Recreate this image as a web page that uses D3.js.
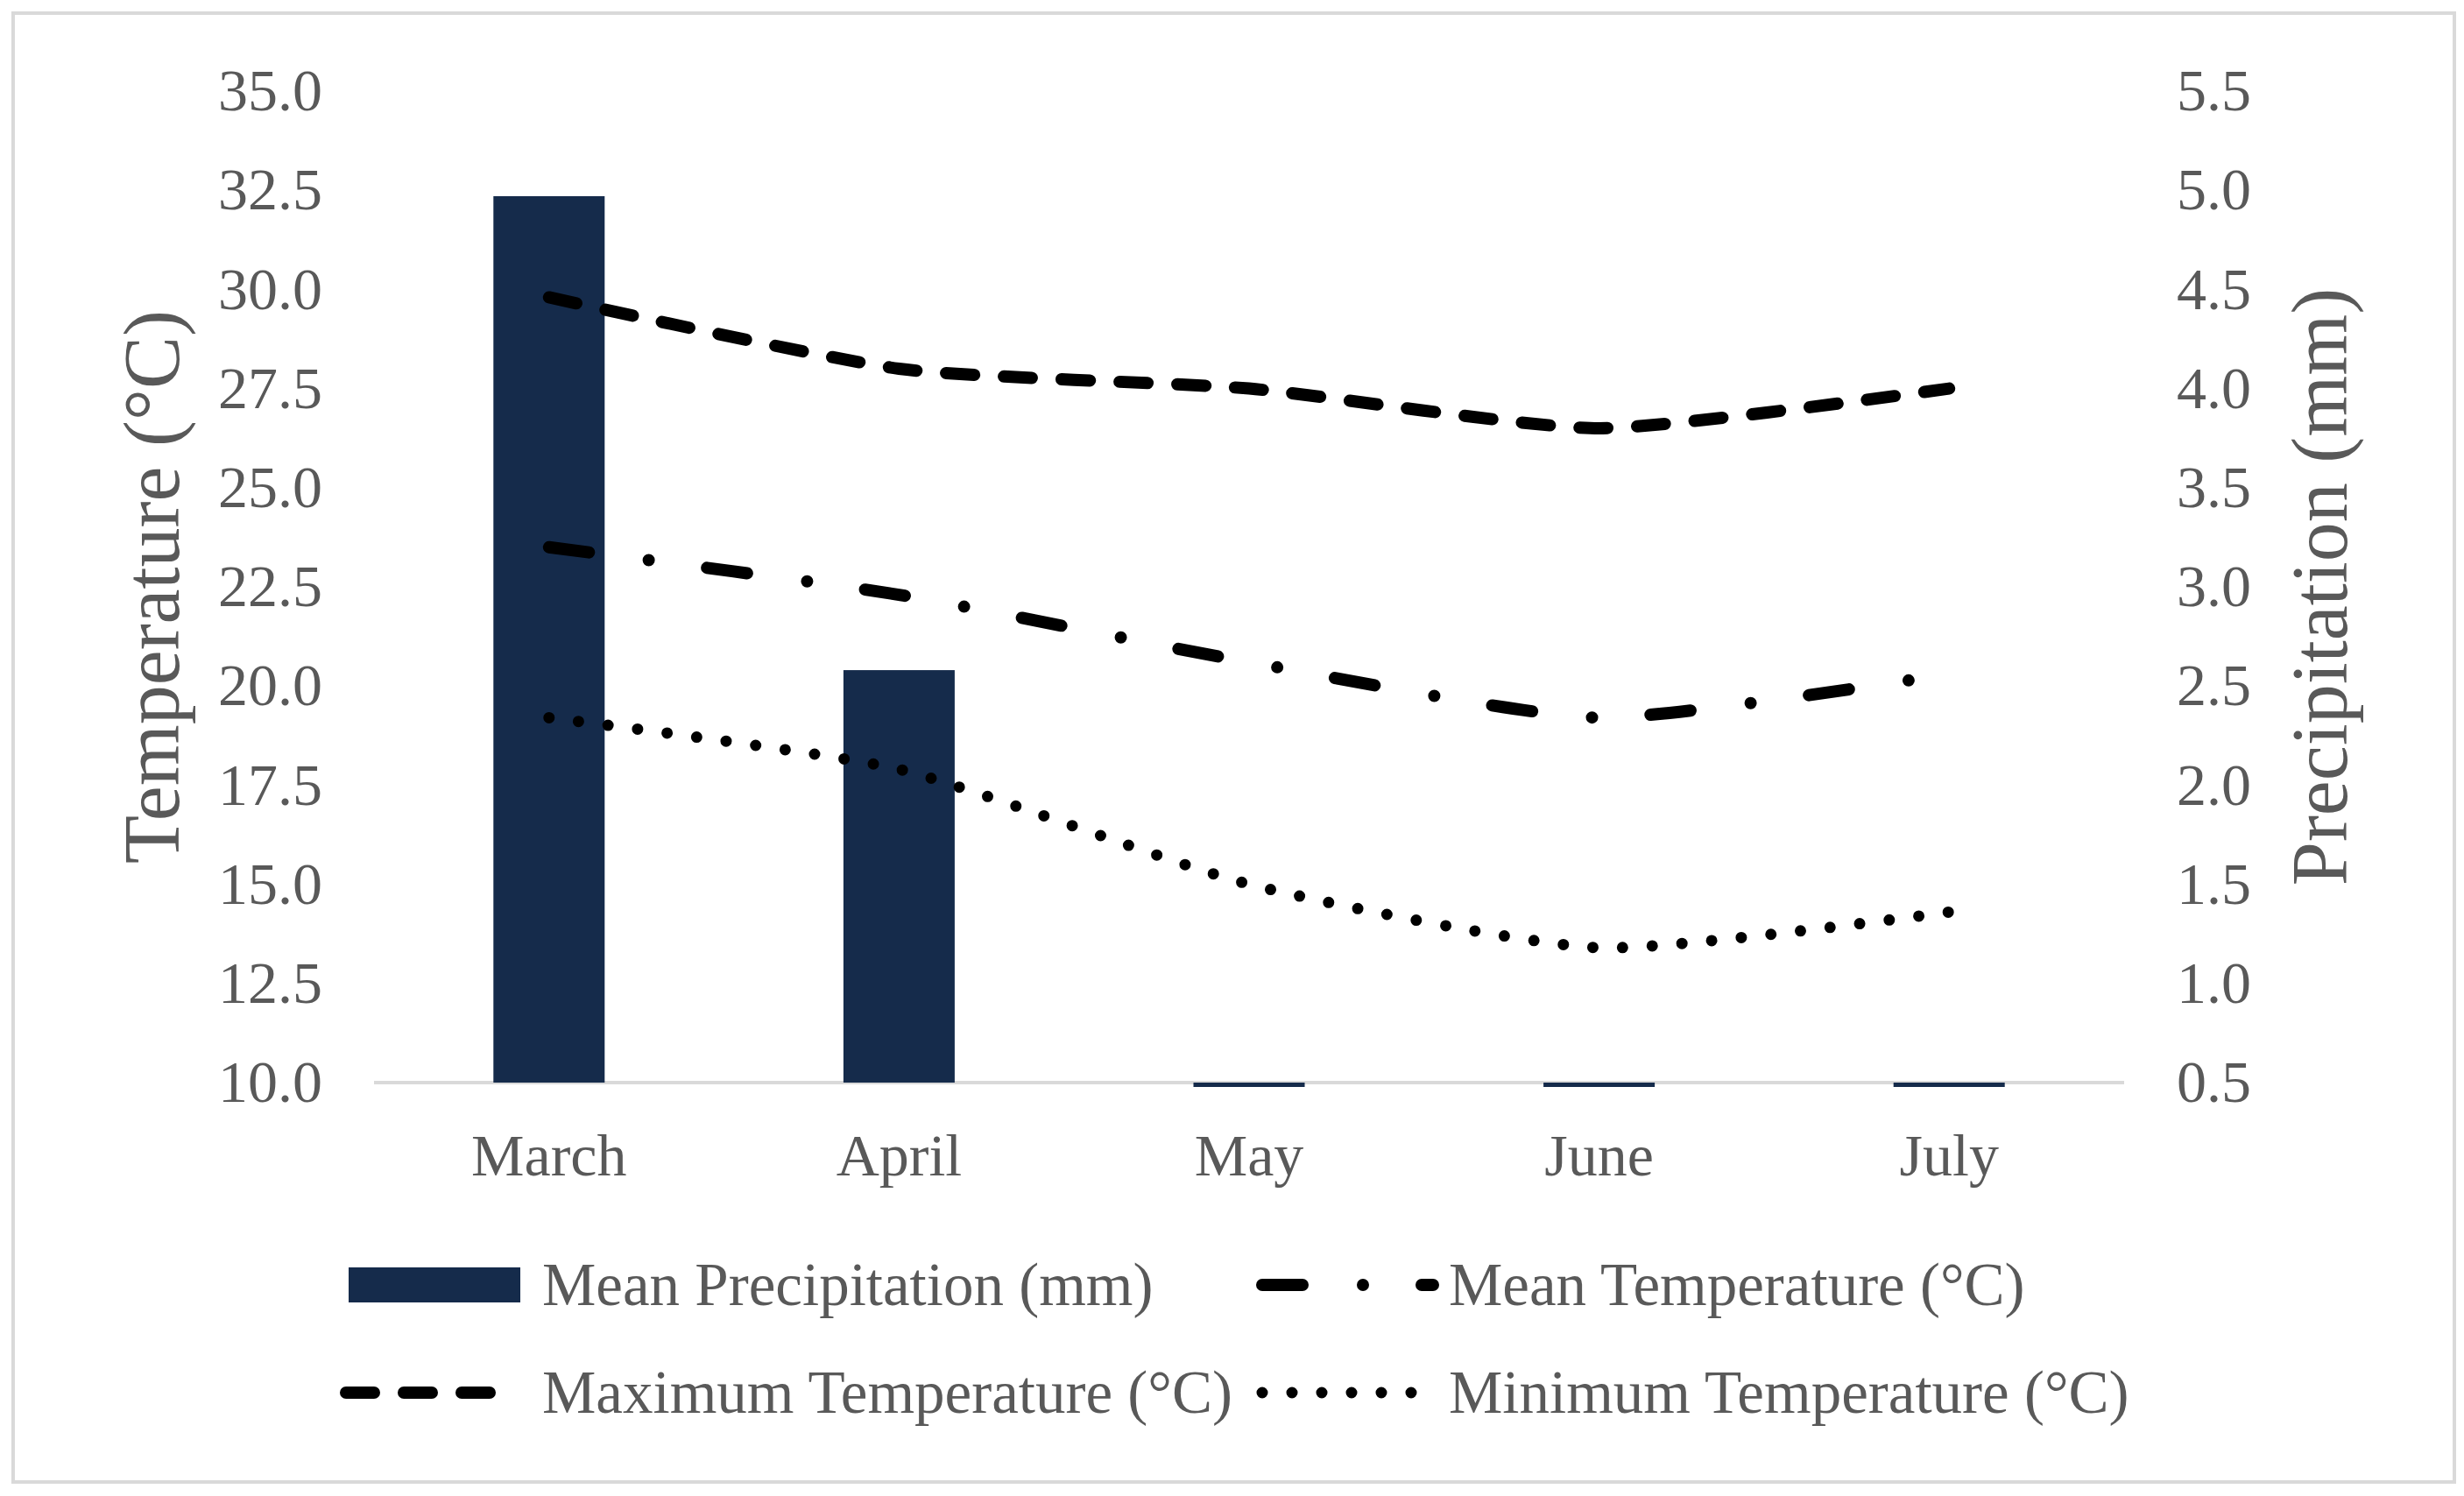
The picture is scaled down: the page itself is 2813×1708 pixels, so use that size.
<!DOCTYPE html>
<html>
<head>
<meta charset="utf-8">
<script src="https://cdn.jsdelivr.net/npm/d3@7"></script>
<style>
  body { margin: 0; background: #fff; }
  text { font-family: "Liberation Serif", "Times New Roman", serif; fill: #595959; }
</style>
</head>
<body>
<script>
const width = 2813;
const height = 1708;

// Data
const months = ['March', 'April', 'May', 'June', 'July'];
const precipitation = [4.97, 2.58, 0, 0, 0];
const maxTemp = [29.8, 28.0, 27.5, 26.5, 27.5];
const meanTemp = [23.5, 22.3, 20.6, 19.2, 20.3];
const minTemp = [19.2, 17.9, 15.0, 13.4, 14.3];
const tempTicks = [10, 12.5, 15, 17.5, 20, 22.5, 25, 27.5, 30, 32.5, 35];
const precipTicks = [0.5, 1, 1.5, 2, 2.5, 3, 3.5, 4, 4.5, 5, 5.5];

const plot = { left: 427, right: 2425, top: 104, bottom: 1236 };

const svg = d3.select('body')
  .append('svg')
  .attr('width', width)
  .attr('height', height);

// outer frame
svg.append('rect')
  .attr('x', 15).attr('y', 15)
  .attr('width', 2787).attr('height', 1677)
  .attr('fill', '#fff')
  .attr('stroke', '#d9d9d9')
  .attr('stroke-width', 4);

const x = d3.scaleBand()
  .domain(months)
  .range([plot.left, plot.right])
  .padding(0);
const yT = d3.scaleLinear().domain([10, 35]).range([plot.bottom, plot.top]);
const yP = d3.scaleLinear().domain([0.5, 5.5]).range([plot.bottom, plot.top]);
const cx = d => x(d) + x.bandwidth() / 2;

// Axes
const leftAxis = d3.axisLeft(yT).tickValues(tempTicks).tickSize(0).tickPadding(59).tickFormat(d3.format('.1f'));
svg.append('g').attr('transform', `translate(${plot.left},0)`).call(leftAxis)
  .call(g => g.select('.domain').remove());

const rightAxis = d3.axisRight(yP).tickValues(precipTicks).tickSize(0).tickPadding(60).tickFormat(d3.format('.1f'));
svg.append('g').attr('transform', `translate(${plot.right},0)`).call(rightAxis)
  .call(g => g.select('.domain').remove());

const bottomAxis = d3.axisBottom(x).tickSize(0).tickPadding(58);
svg.append('g').attr('transform', `translate(0,${plot.bottom})`).call(bottomAxis)
  .call(g => g.select('.domain').remove());

svg.selectAll('.tick text')
  .style('font-family', '"Liberation Serif", serif')
  .style('font-size', '68px')
  .attr('fill', '#595959');

// baseline
svg.append('line')
  .attr('x1', plot.left).attr('x2', plot.right)
  .attr('y1', plot.bottom).attr('y2', plot.bottom)
  .attr('stroke', '#d9d9d9')
  .attr('stroke-width', 4);

// clip so zero bars show only as a thin sliver below the axis
svg.append('defs').append('clipPath').attr('id', 'plotClip')
  .append('rect')
  .attr('x', plot.left).attr('y', plot.top)
  .attr('width', plot.right - plot.left)
  .attr('height', plot.bottom - plot.top + 5);

const barW = 127;
svg.append('g')
  .attr('clip-path', 'url(#plotClip)')
  .selectAll('rect')
  .data(precipitation)
  .enter()
  .append('rect')
  .attr('x', (d, i) => cx(months[i]) - barW / 2)
  .attr('y', d => Math.min(yP(d), yP(0.5)))
  .attr('width', barW)
  .attr('height', d => Math.abs(yP(0.5) - yP(d)))
  .attr('fill', '#152b4b');

// Temperature lines
const styles = {
  max: { dash: '32 34', width: 14 },
  mean: { dash: '46 69 0 67', width: 14 },
  min: { dash: '0 34', width: 13 }
};

const line = d3.line()
  .x((d, i) => cx(months[i]))
  .y(d => yT(d))
  .curve(d3.curveCardinal.tension(0.4));

[[maxTemp, styles.max], [meanTemp, styles.mean], [minTemp, styles.min]].forEach(([vals, st]) => {
  svg.append('path')
    .datum(vals)
    .attr('d', line)
    .attr('fill', 'none')
    .attr('stroke', '#000')
    .attr('stroke-width', st.width)
    .attr('stroke-linecap', 'round')
    .attr('stroke-dasharray', st.dash);
});

// Axis titles
svg.append('text')
  .attr('transform', `translate(204,${(plot.top + plot.bottom) / 2}) rotate(-90)`)
  .attr('text-anchor', 'middle')
  .style('font-size', '90px')
  .text('Temperature (°C)');

svg.append('text')
  .attr('transform', `translate(2679,${(plot.top + plot.bottom) / 2}) rotate(-90)`)
  .attr('text-anchor', 'middle')
  .style('font-size', '90px')
  .text('Precipitation (mm)');

// Legend
const legend = svg.append('g');
const row1 = 1467, row2 = 1590;

legend.append('rect')
  .attr('x', 398).attr('y', row1 - 20)
  .attr('width', 196).attr('height', 40)
  .attr('fill', '#152b4b');

const legendItems = [
  { x1: 1441, x2: 1636, y: row1, st: styles.mean, label: 'Mean Temperature (°C)', tx: 1654 },
  { x1: 395, x2: 570, y: row2, st: styles.max, label: 'Maximum Temperature (°C)', tx: 619 },
  { x1: 1441, x2: 1620, y: row2, st: styles.min, label: 'Minimum Temperature (°C)', tx: 1654 }
];

legendItems.forEach(it => {
  legend.append('line')
    .attr('x1', it.x1).attr('x2', it.x2)
    .attr('y1', it.y).attr('y2', it.y)
    .attr('stroke', '#000')
    .attr('stroke-width', it.st.width)
    .attr('stroke-linecap', 'round')
    .attr('stroke-dasharray', it.st.dash);
});

const legendText = [
  { label: 'Mean Precipitation (mm)', x: 619, y: row1 },
  ...legendItems.map(it => ({ label: it.label, x: it.tx, y: it.y }))
];

legend.selectAll('text.lg')
  .data(legendText)
  .enter()
  .append('text')
  .attr('class', 'lg')
  .attr('x', d => d.x)
  .attr('y', d => d.y)
  .attr('dy', '0.33em')
  .style('font-size', '69px')
  .text(d => d.label);
</script>
</body>
</html>
